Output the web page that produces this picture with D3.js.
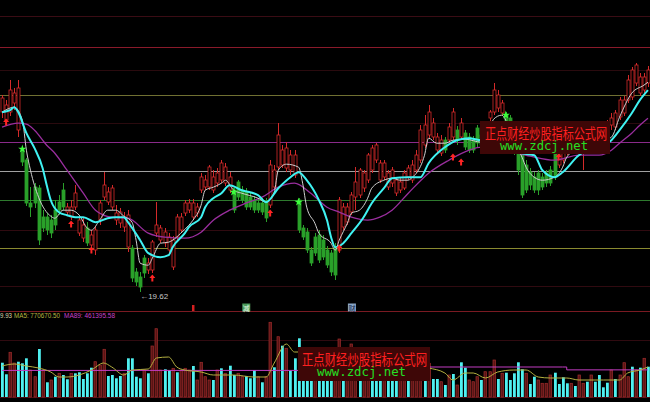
<!DOCTYPE html>
<html><head><meta charset="utf-8">
<script src="https://cdn.jsdelivr.net/npm/d3@7"></script>
<style>html,body{margin:0;padding:0;background:#000;overflow:hidden}svg{display:block}</style>
</head><body>
<svg id="c" width="650" height="402"></svg>
<script>
// ---------- DATA ----------
const opens = [37.62,36.82,37.62,38.52,35.82,33.82,32.82,28.52,30.12,30.02,
27.12,27.12,26.82,27.82,28.62,29.82,27.62,27.12,28.12,25.52,
25.02,26.02,24.32,23.82,26.82,29.12,28.62,28.12,26.82,26.52,
26.12,24.12,24.02,21.62,21.12,23.02,21.82,21.82,25.52,24.82,
24.52,23.82,22.12,25.12,25.82,27.52,27.82,27.12,27.52,29.82,
30.12,30.12,29.82,30.52,30.82,30.52,29.82,29.82,30.62,29.82,
29.62,29.12,28.82,28.52,28.52,28.62,28.32,30.12,32.12,32.32,
32.02,31.82,31.32,28.82,26.02,25.62,23.82,25.12,25.32,24.82,
23.82,23.52,24.12,23.82,26.12,26.62,27.62,29.12,29.32,30.02,
30.82,31.82,32.82,30.82,31.12,30.12,30.52,29.52,29.82,30.02,
31.12,30.82,31.82,32.82,34.32,35.32,35.12,33.82,33.52,34.82,
34.82,35.12,35.82,35.12,35.52,35.12,34.82,36.02,35.32,34.82,
37.02,37.62,38.02,37.52,37.32,37.02,35.82,34.82,33.82,32.32,
31.62,31.12,31.52,31.12,31.52,31.82,33.52,32.32,32.82,33.62,
33.82,34.82,34.02,33.82,34.32,35.22,34.52,35.02,35.32,35.52,
36.32,36.12,37.12,37.52,38.82,39.12,40.52,39.52,39.82,40.52];
const closes = [39.02,38.32,39.82,39.52,40.02,32.62,28.52,28.12,28.52,24.82,
26.02,25.82,25.52,26.32,27.82,28.12,28.12,28.12,29.52,26.82,
26.32,24.52,25.32,25.82,28.52,30.32,29.62,30.02,27.52,27.62,
27.12,27.32,21.02,20.62,20.12,21.52,22.52,24.62,26.32,26.02,
25.62,25.12,24.82,27.12,27.12,28.52,28.52,28.52,28.12,31.12,
30.82,32.12,31.12,31.52,32.52,32.12,31.12,27.82,29.12,28.82,
28.12,28.12,27.82,27.82,27.62,27.02,32.32,31.82,35.32,33.82,
34.02,33.32,33.32,25.82,25.12,23.82,22.52,23.52,22.82,23.12,
22.32,21.62,21.32,28.82,28.12,28.12,29.32,30.62,31.82,31.52,
33.32,34.02,34.32,32.52,32.52,31.52,31.82,30.82,30.62,31.52,
32.02,32.32,33.32,35.82,36.32,37.62,36.52,35.12,34.82,33.82,
36.12,37.62,34.82,36.52,34.12,33.82,33.82,34.52,34.32,35.82,
37.62,39.82,39.32,38.52,35.82,35.32,33.82,31.82,29.32,29.82,
30.32,29.82,29.82,30.12,30.52,30.52,31.12,33.32,34.02,34.62,
35.02,34.02,35.22,34.82,35.32,34.32,35.82,36.02,36.32,36.52,
37.02,37.52,38.82,38.82,40.82,41.82,42.32,41.12,41.12,41.82];
const highs = [39.32,38.82,40.82,40.02,40.82,34.02,33.02,30.12,30.52,30.32,
27.82,27.52,27.32,28.82,29.32,30.52,28.52,28.82,30.32,27.32,
27.02,26.62,25.82,26.22,28.82,31.62,30.12,30.32,28.32,28.02,
27.62,27.82,24.32,22.02,21.62,23.32,23.02,24.82,28.62,26.32,
26.02,25.52,25.22,27.42,27.52,28.82,28.92,28.92,28.52,31.52,
31.32,32.32,31.82,32.02,32.82,32.52,31.62,30.02,30.82,30.22,
30.02,29.52,29.22,29.02,29.02,29.02,32.82,32.32,36.52,34.32,
34.62,33.82,33.82,29.02,26.32,26.02,24.12,25.52,25.82,25.32,
24.22,23.82,24.52,29.12,28.52,28.52,29.62,32.12,32.02,31.82,
33.52,34.32,34.52,32.82,32.82,31.82,32.12,31.12,31.02,31.82,
32.32,32.82,33.82,36.32,37.32,38.32,37.02,35.52,35.32,35.12,
36.52,38.02,36.22,37.02,35.82,35.52,35.22,36.32,35.82,36.12,
37.82,40.52,39.82,38.82,37.62,37.32,36.02,35.32,34.32,32.82,
32.02,31.62,31.82,31.52,31.82,32.22,33.82,33.82,34.32,34.82,
35.52,35.32,35.62,35.32,35.82,35.62,36.22,36.42,36.62,36.82,
37.52,37.82,39.12,39.22,41.32,42.12,42.52,41.52,41.52,42.22];
const lows = [37.02,36.32,37.22,37.82,35.12,32.22,28.22,27.12,28.02,24.32,
25.62,25.32,25.02,25.82,27.32,27.82,27.22,26.82,27.82,25.22,
24.62,24.22,23.62,23.32,26.32,28.82,28.32,27.82,26.32,26.02,
25.62,23.62,20.62,20.22,19.62,21.02,21.42,21.52,25.12,24.52,
24.12,23.52,21.82,24.82,25.52,27.22,27.52,26.82,27.12,29.52,
29.82,29.82,29.52,30.12,30.52,30.22,29.52,27.52,28.82,28.52,
27.82,27.82,27.52,27.52,27.32,26.62,28.02,29.82,31.82,32.02,
31.62,31.32,31.02,25.52,24.82,23.52,22.22,23.22,22.52,22.82,
22.02,21.22,20.82,23.52,25.82,26.32,27.32,27.82,29.02,29.62,
30.52,31.52,32.52,30.52,30.82,29.82,30.12,29.22,29.52,29.82,
30.82,30.52,31.52,32.52,34.02,35.02,34.82,33.52,33.22,33.52,
34.52,34.82,34.32,34.82,33.82,33.52,33.52,34.12,34.02,34.42,
36.62,37.32,37.62,37.22,35.52,34.82,33.32,31.32,29.02,29.52,
29.82,29.52,29.32,29.82,30.12,30.22,30.82,32.02,32.52,33.32,
33.52,33.62,33.82,31.82,33.82,33.82,34.02,34.32,34.82,35.02,
35.82,35.82,36.82,37.22,38.52,38.82,40.22,39.22,39.52,40.12];
const volumes = [583000,386000,760000,578000,600000,573000,658000,459000,345000,816000,
459000,250000,289000,345000,403000,374000,301000,403000,403000,420000,
306000,403000,498000,600000,544000,811000,357000,374000,318000,357000,
403000,658000,658000,345000,318000,459000,403000,867000,1161000,459000,
471000,459000,488000,420000,459000,488000,459000,527000,289000,590000,
345000,289000,289000,459000,488000,403000,532000,374000,403000,345000,
357000,318000,459000,345000,250000,345000,1270000,505000,1025000,872000,
828000,447000,658000,998000,459000,425000,374000,459000,493000,425000,
425000,459000,629000,986000,544000,629000,901000,663000,493000,595000,
629000,459000,425000,459000,544000,425000,459000,493000,595000,544000,
459000,595000,629000,714000,544000,573000,306000,306000,260000,204000,
374000,391000,204000,590000,498000,289000,260000,345000,289000,430000,
430000,629000,306000,403000,413000,289000,403000,590000,471000,403000,
221000,345000,289000,233000,233000,374000,413000,221000,335000,233000,
233000,187000,374000,233000,260000,374000,260000,374000,165000,243000,
459000,306000,374000,583000,345000,515000,459000,498000,658000,515000];
// u = rising-volume bar (red), d = falling (cyan)
const volDir = ("dduuddduud"+"udududdudd"+"ddduuudddd"+"udddduduuu"+"dduduuuduu"+
  "uudududduu"+"ddduduudud"+"uddddddudd"+"dduuduuudu"+"uddduddduu"+
  "duuududdud"+"ududduuudu"+"uududddddu"+"dduuuudddd"+"uduududddd"+"uduuududud").split("");
// moving-average lines: [day, value]
const ma5Pts = [[0,37.6],[3,38.1],[5,36.8],[6,33.8],[7,31.8],[9,29.1],[12,27.2],[13,27.0],[15,27.8],[17,27.8],[19,27.3],[21,26.0],[22,25.8],[24,26.8],[26,27.8],[28,27.8],[30,27.2],[32,26.6],[33,24.8],[34,22.5],[36,22.3],[37,23.0],[39,24.5],[41,24.6],[42,24.8],[44,25.5],[46,26.3],[47,26.8],[49,28.3],[50,29.8],[52,30.1],[54,30.5],[55,30.8],[57,29.8],[59,29.5],[63,29.0],[65,28.6],[67,29.6],[68,31.8],[70,32.4],[73,32.1],[74,30.5],[75,28.1],[77,26.5],[78,25.5],[81,24.5],[82,23.8],[83,24.8],[85,26.5],[86,27.5],[88,27.8],[90,29.0],[91,30.0],[94,30.8],[96,31.0],[98,30.8],[100,30.8],[101,31.1],[102,31.5],[104,33.3],[105,35.0],[107,34.5],[109,34.5],[111,34.8],[114,34.9],[118,34.6],[120,35.8],[121,36.9],[123,37.3],[125,35.8],[126,34.8],[128,33.1],[129,32.1],[131,31.1],[133,30.8],[136,31.1],[138,32.1],[139,33.1],[142,34.0],[146,34.5],[150,35.1],[152,37.1],[155,39.5],[158,40.3],[159,40.6]];
const ma10Pts = [[0,37.6],[2,37.8],[3,38.1],[4,37.6],[6,35.5],[8,34.0],[10,32.0],[11,30.3],[12,28.8],[14,27.6],[16,27.3],[18,27.1],[20,27.1],[23,26.6],[26,27.0],[28,27.1],[30,27.1],[31,26.6],[34,24.8],[36,23.5],[39,23.1],[41,23.3],[42,24.1],[45,25.5],[46,26.1],[49,27.1],[50,28.1],[52,29.0],[54,29.5],[56,30.3],[59,29.8],[63,29.3],[65,28.6],[68,30.0],[71,31.1],[73,31.6],[75,30.8],[78,28.8],[80,26.8],[81,25.1],[82,24.1],[84,24.5],[86,25.5],[89,27.1],[91,28.5],[94,30.0],[96,31.0],[100,31.1],[103,31.1],[105,32.5],[109,34.1],[112,34.8],[115,35.0],[118,34.8],[121,35.0],[125,34.8],[128,33.5],[131,33.3],[133,31.8],[136,31.1],[138,31.6],[142,33.3],[146,34.0],[150,34.8],[152,35.8],[155,37.5],[157,38.8],[159,39.8]];
const ma30Pts = [[0,36.1],[4,36.5],[6,36.4],[8,35.8],[11,34.3],[13,33.5],[16,31.8],[20,29.5],[23,27.8],[27,27.1],[31,27.0],[36,25.5],[40,25.1],[45,25.0],[49,25.6],[52,26.8],[56,27.8],[60,28.5],[64,29.1],[68,30.1],[72,30.5],[76,29.5],[80,28.1],[83,27.6],[86,27.1],[90,26.8],[93,27.1],[96,27.8],[100,29.5],[105,31.5],[110,32.8],[115,33.8],[118,34.1],[124,33.8],[130,33.2],[136,32.8],[142,33.3],[147,33.3],[150,33.8],[152,34.5],[155,35.5],[157,36.3],[159,37.0]];
const volMa5Pts = [[0,527000],[3,561000],[6,527000],[9,493000],[12,425000],[14,340000],[16,340000],[19,374000],[22,459000],[25,578000],[27,510000],[30,374000],[32,459000],[36,476000],[38,663000],[41,680000],[43,510000],[45,459000],[49,425000],[52,374000],[57,374000],[62,340000],[65,340000],[67,578000],[70,901000],[72,765000],[73,765000],[80,560000],[90,600000],[100,540000],[105,493000],[109,408000],[111,289000],[114,408000],[116,408000],[119,323000],[122,425000],[126,459000],[129,459000],[132,340000],[135,323000],[139,323000],[142,289000],[145,289000],[148,289000],[152,289000],[154,408000],[157,459000],[159,510000]];
const volMa89Pts = [[0,452000],[100,455000],[104,510000],[138,510000],[139,461395],[159,461395]];
const arrowSignals = [[1,36.62],[17,26.42],[22,23.82],[37,21.02],[66,27.52],[83,24.02],[111,33.12],[113,32.62],[137,33.12]];
const starSignals = [[5,33.92],[57,29.62],[73,28.62],[124,37.32]];
const priceLevels = [47.22,44.12,41.82,39.32,36.52,34.62,31.72,28.82,25.82,24.02,20.22];
const volLevels = [969000];
const events = [{day:47,label:""},{day:60,label:"减"},{day:86,label:"财"}];
const volTexts = ["9.93","MA5: 770670.50","MA89: 461395.58"];
const bottomTexts = ["40 VII:","51.4","12.5","52.1"];
const watermark = ["正点财经炒股指标公式网","www.zdcj.net"];

// ---------- STYLE / LAYOUT ----------
const W = 650, H = 402, N = closes.length;
const levelColors = ["#3a0c14","#8a1a2a","#2a0a0e","#707032","#2a0a0e","#8a2a8a","#a0a0a0","#2e7a2e","#300a10","#8a8a30","#300a10"];
const RED = "#d42a2a", GREEN = "#2aa02a", CYAN = "#4ff0f0";

const svg = d3.select("#c");
svg.append("rect").attr("width",W).attr("height",H).attr("fill","#000");

const x = d3.scaleBand().domain(d3.range(N)).range([0,W]).paddingInner(0.28).paddingOuter(0.14);
const xc = i => x(i) + x.bandwidth()/2;
const y = d3.scaleLinear().domain([20,45]).range([288.2,38.2]);
const yv = d3.scaleLinear().domain([0,1400000]).range([397,314.65]);

// grid levels
svg.append("g").selectAll("line").data(priceLevels).join("line")
  .attr("x1",0).attr("x2",W)
  .attr("y1",d=>Math.round(y(d))+0.5).attr("y2",d=>Math.round(y(d))+0.5)
  .attr("stroke",(d,i)=>levelColors[i]).attr("stroke-width",1);
// panel separator + volume grid + baseline
svg.append("line").attr("x1",0).attr("x2",W).attr("y1",311.5).attr("y2",311.5).attr("stroke","#7a1a22");
svg.append("g").selectAll("line").data(volLevels).join("line")
  .attr("x1",0).attr("x2",W).attr("y1",d=>Math.round(yv(d))+0.5).attr("y2",d=>Math.round(yv(d))+0.5)
  .attr("stroke","#300a10");
svg.append("line").attr("x1",0).attr("x2",W).attr("y1",yv(0)+0.5).attr("y2",yv(0)+0.5).attr("stroke","#4a0e14");

// candles
const cg = svg.append("g");
const idx = d3.range(N);
cg.selectAll("line.w").data(idx).join("line").attr("class","w")
  .attr("x1",i=>Math.round(xc(i))+0.5).attr("x2",i=>Math.round(xc(i))+0.5)
  .attr("y1",i=>y(highs[i])).attr("y2",i=>y(lows[i]))
  .attr("stroke",i=>closes[i]>=opens[i]?RED:GREEN).attr("stroke-width",1);
cg.selectAll("rect").data(idx).join("rect")
  .attr("x",i=>Math.round(xc(i))-1)
  .attr("width",3)
  .attr("y",i=>y(Math.max(opens[i],closes[i])))
  .attr("height",i=>Math.max(1,Math.abs(y(opens[i])-y(closes[i]))))
  .attr("fill",i=>closes[i]>=opens[i]?"#000":GREEN)
  .attr("stroke",i=>closes[i]>=opens[i]?RED:GREEN).attr("stroke-width",0.8);

// MA lines
const line = d3.line().x(d=>xc(d[0])).y(d=>y(d[1])).curve(d3.curveMonotoneX);
svg.append("path").attr("d",line(ma30Pts)).attr("fill","none").attr("stroke","#9a2e9e").attr("stroke-width",1.3);
svg.append("path").attr("d",line(ma5Pts)).attr("fill","none").attr("stroke","#cfcfcf").attr("stroke-width",1);
svg.append("path").attr("d",line(ma10Pts)).attr("fill","none").attr("stroke","#3ff2f2").attr("stroke-width",2);

// signals
svg.append("g").selectAll("path").data(arrowSignals).join("path")
  .attr("transform",d=>`translate(${xc(d[0])},${y(d[1])})`)
  .attr("d","M0,-3.5L3,0H1V3.5H-1V0H-3Z").attr("fill","#ff2424");
svg.append("g").selectAll("path").data(starSignals).join("path")
  .attr("transform",d=>`translate(${xc(d[0])},${y(d[1])})`)
  .attr("d",d3.symbol(d3.symbolStar,22)).attr("fill","#3cff3c");

// lowest price label
const minI = d3.minIndex(lows);
svg.append("text").attr("x",xc(minI)).attr("y",y(lows[minI])+7)
  .attr("fill","#c8c8c8").attr("font-family","Liberation Sans, Arial, sans-serif").attr("font-size",8)
  .text("←"+lows[minI].toFixed(2));

// event markers row
const eg = svg.append("g");
events.forEach(e=>{
  const cx = xc(e.day);
  if(e.label===""){
    eg.append("rect").attr("x",cx-1).attr("y",305).attr("width",2.5).attr("height",6).attr("fill","#d42020");
  } else {
    const isGreen = e.label==="减";
    eg.append("rect").attr("x",cx-3.5).attr("y",303.5).attr("width",8).attr("height",8)
      .attr("fill",isGreen?"#4a9a5a":"#8aa6c6");
    eg.append("text").attr("x",cx+0.5).attr("y",310.5).attr("text-anchor","middle")
      .attr("font-family","Noto Sans CJK SC").attr("font-size",7)
      .attr("fill",isGreen?"#e8ffe8":"#102040").text(e.label);
  }
});

// volume bars
const vg = svg.append("g");
vg.selectAll("rect").data(idx).join("rect")
  .attr("x",i=>Math.round(xc(i))-1)
  .attr("width",i=>volDir[i]==="u"?2.4:2.8)
  .attr("y",i=>yv(volumes[i]))
  .attr("height",i=>yv(0)-yv(volumes[i]))
  .attr("fill",i=>volDir[i]==="u"?"#5a1414":CYAN)
  .attr("stroke",i=>volDir[i]==="u"?"#a02c2c":"none").attr("stroke-width",0.7);

const vline = d3.line().x(d=>xc(d[0])).y(d=>yv(d[1])).curve(d3.curveMonotoneX);
svg.append("path").attr("d",vline(volMa89Pts)).attr("fill","none").attr("stroke","#c23cc2").attr("stroke-width",1).attr("d",d3.line().x(d=>xc(d[0])).y(d=>yv(d[1])).curve(d3.curveStepAfter)(volMa89Pts));
svg.append("path").attr("d",vline(volMa5Pts)).attr("fill","none").attr("stroke","#b4b040").attr("stroke-width",1);

// volume header texts
const vtColors = ["#d8d8a8","#b8b840","#c840c8"], vtX = [0,14,64], vtW = [12,46,51];
svg.append("g").selectAll("text").data(volTexts).join("text")
  .attr("x",(d,i)=>vtX[i]).attr("y",317.5).attr("fill",(d,i)=>vtColors[i])
  .attr("font-family","Liberation Sans, Arial, sans-serif").attr("font-size",7)
  .attr("textLength",(d,i)=>vtW[i]).attr("lengthAdjust","spacingAndGlyphs").text(d=>d);

// bottom clipped texts
const btColors = ["#e0e0e0","#e03030","#c040c0","#c8c840"], btX = [2,28,53,72];
svg.append("g").selectAll("text").data(bottomTexts).join("text")
  .attr("x",(d,i)=>btX[i]).attr("y",406.5).attr("fill",(d,i)=>btColors[i])
  .attr("font-family","Liberation Sans, Arial, sans-serif").attr("font-size",8).text(d=>d);

// watermarks
function wm(x0,y0,w,h,tx,ty,tw,gx,gy,gw){
  svg.append("rect").attr("x",x0).attr("y",y0).attr("width",w).attr("height",h).attr("fill","#3e0707");
  svg.append("text").attr("x",tx).attr("y",ty).attr("fill","#ff2020")
    .attr("font-family","Noto Sans CJK SC").attr("font-size",15)
    .attr("textLength",tw).attr("lengthAdjust","spacingAndGlyphs").text(watermark[0]);
  svg.append("text").attr("x",gx).attr("y",gy).attr("fill","#24e024")
    .attr("font-family","DejaVu Sans Mono, Liberation Mono, monospace").attr("font-size",12)
    .attr("textLength",gw).attr("lengthAdjust","spacingAndGlyphs").text(watermark[1]);
}
wm(480,121,130,33, 485,139,122, 500,150,88);
wm(298,347,132,34, 302,365,125, 317,376,89);
</script>
</body></html>
